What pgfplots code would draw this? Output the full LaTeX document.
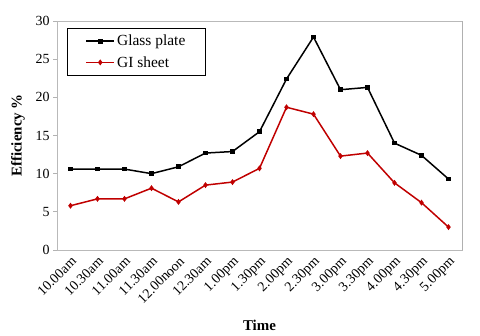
\documentclass[border=0pt]{standalone}
\usepackage{fontspec}
\setmainfont{Liberation Serif}
\usepackage{pgfplots}
\pgfplotsset{compat=1.18}
\definecolor{gired}{RGB}{192,0,0}

\begin{document}
\begin{tikzpicture}
\begin{axis}[
  scale only axis,
  width=405bp, height=229bp,
  xmin=-0.5, xmax=14.5,
  ymin=0, ymax=30,
  ytick={0,5,...,30},
  xtick={0,...,14},
  xticklabels={10.00am,10.30am,11.00am,11.30am,12.00noon,12.30am,1.00pm,1.30pm,2.00pm,2.30pm,3.00pm,3.30pm,4.00pm,4.30pm,5.00pm},
  x tick label style={rotate=45, anchor=north east, inner sep=1pt},
  tick label style={font=\fontsize{14}{16}\selectfont},
  /pgf/number format/assume math mode=true,
  x tick style={draw=none},
  ytick pos=left,
  y tick style={gray!60, line width=0.8pt},
  tick align=outside,
  major tick length=4bp,
  axis line style={gray!55, line width=1pt},
  xlabel={\textbf{Time}},
  ylabel={\textbf{Efficiency \%}},
  label style={font=\fontsize{15}{17}\selectfont},
  xlabel style={at={(axis description cs:0.5,-0.3275)}, anchor=center},
  ylabel style={at={(axis description cs:-0.0963,0.5)}, anchor=center},
  legend style={at={(0.025,0.97)}, anchor=north west, draw=black, line width=0.6pt,
    font=\fontsize{15.5}{17}\selectfont, inner xsep=18pt, inner ysep=5pt,
    row sep=5pt},
  legend cell align=left,
  legend image post style={line width=1.5pt},
  legend image code/.code={
    \draw[mark repeat=2,mark phase=2] plot coordinates {(0cm,0cm) (0.5cm,0cm) (1cm,0cm)};
  },
]
\addplot[black, line width=1.5pt, mark=square*, mark size=1.6pt] coordinates {
  (0,10.6) (1,10.6) (2,10.6) (3,10.0) (4,10.9) (5,12.7) (6,12.9) (7,15.5)
  (8,22.4) (9,27.9) (10,21.0) (11,21.3) (12,14.0) (13,12.4) (14,9.3)
};
\addplot[gired, line width=1.5pt, mark=diamond*, mark size=1.8pt] coordinates {
  (0,5.8) (1,6.7) (2,6.7) (3,8.1) (4,6.3) (5,8.5) (6,8.9) (7,10.7)
  (8,18.7) (9,17.8) (10,12.3) (11,12.7) (12,8.8) (13,6.2) (14,3.0)
};
\legend{Glass plate, GI sheet}
\draw[gray!90!black, line width=1pt] (rel axis cs:1,0) -- (rel axis cs:1,1);
\end{axis}
\pgfresetboundingbox
\path (-57bp,-86bp) rectangle (423bp,250bp);
\end{tikzpicture}
\end{document}
